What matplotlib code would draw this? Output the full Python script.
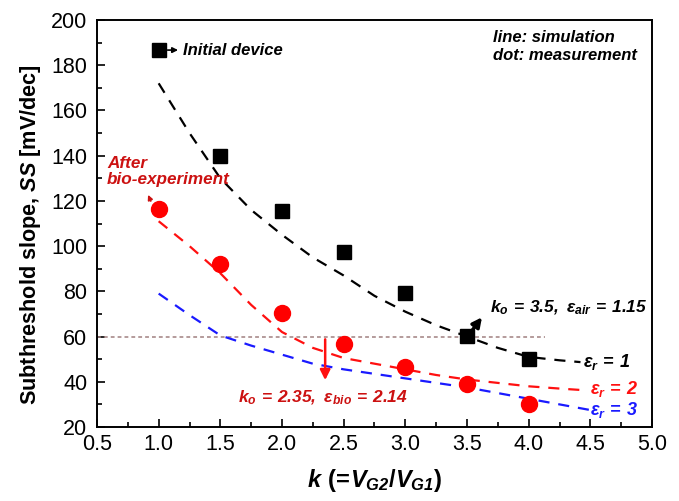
import matplotlib
matplotlib.use("Agg")
import matplotlib.pyplot as plt

plt.rcParams['font.family'] = ['Liberation Sans', 'DejaVu Sans']
plt.rcParams['mathtext.fontset'] = 'custom'
plt.rcParams['mathtext.rm'] = 'Liberation Sans:bold:italic'
plt.rcParams['mathtext.it'] = 'Liberation Sans:bold:italic'
plt.rcParams['mathtext.bf'] = 'Liberation Sans:bold:italic'
plt.rcParams['mathtext.sf'] = 'Liberation Sans:bold'

# measured data
k_meas = [1.0, 1.5, 2.0, 2.5, 3.0, 3.5, 4.0]
ss_initial = [186.7, 139.8, 115.5, 97.4, 79.3, 60.2, 50.0]
ss_bio = [116.4, 92.0, 70.4, 56.7, 46.5, 39.0, 30.0]

# simulation lines
k_sim1 = [1.0, 1.25, 1.5, 1.75, 2.0, 2.25, 2.5, 2.75, 3.0, 3.25, 3.5, 3.75, 4.0, 4.25, 4.42]
ss_er1 = [172, 150, 130, 116, 105, 95, 87, 78, 71, 65, 60, 55, 51, 49.5, 48.7]
k_sim2 = [1.0, 1.25, 1.5, 1.75, 2.0, 2.25, 2.5, 2.75, 3.0, 3.25, 3.5, 3.75, 4.0, 4.25, 4.47]
ss_er2 = [111, 100, 88, 74, 62, 55, 50.5, 48, 45.5, 43, 41, 39.5, 38, 37, 36.2]
k_sim3 = [1.0, 1.25, 1.5, 1.75, 2.0, 2.25, 2.5, 2.75, 3.0, 3.25, 3.5, 3.75, 4.0, 4.25, 4.5]
ss_er3 = [79, 69.5, 60.5, 56, 52, 48, 45.5, 43.5, 41.5, 39.5, 37.5, 35, 32.5, 30, 27.5]

ref_level = 60
xticks = [0.5, 1.0, 1.5, 2.0, 2.5, 3.0, 3.5, 4.0, 4.5, 5.0]
yticks = [20, 40, 60, 80, 100, 120, 140, 160, 180, 200]

RED_TXT = '#cc1111'
RED = '#ff1010'
BLUE = '#1a1aff'

fig = plt.figure(figsize=(6.79, 5.01), dpi=100)
ax = fig.add_axes([97/679, 1-427/501, (652-97)/679, (427-20)/501])

ax.plot([0.5, 4.13], [ref_level, ref_level], linestyle=(0, (2.5, 2)), color='#a08080', lw=1.1)

dash = (0, (5, 4))
ax.plot(k_sim1, ss_er1, color='black', lw=1.6, linestyle=dash)
ax.plot(k_sim2, ss_er2, color=RED, lw=1.6, linestyle=dash)
ax.plot(k_sim3, ss_er3, color=BLUE, lw=1.6, linestyle=dash)

ax.plot(k_meas, ss_initial, 's', color='black', ms=10.5, zorder=5)
ax.plot(k_meas, ss_bio, 'o', color='#ff0000', ms=11.5, zorder=5)

ax.set_xlim(0.5, 5.0)
ax.set_ylim(20, 200)
ax.set_xticks(xticks)
ax.set_xticklabels([f'{v:.1f}' for v in xticks])
ax.set_yticks(yticks)
ax.set_xticks([0.75 + 0.5 * i for i in range(9)], minor=True)
ax.set_yticks([30 + 20 * i for i in range(9)], minor=True)
ax.tick_params(which='both', direction='in', top=False, right=False, width=1.2)
ax.tick_params(which='major', length=6, labelsize=15.5)
ax.tick_params(axis='y', which='major', pad=7)
ax.tick_params(axis='x', which='major', pad=5)
ax.tick_params(which='minor', length=3.5)
for s in ax.spines.values():
    s.set_linewidth(1.4)

ax.set_xlabel(r'$k\ \mathsf{(}\!\mathsf{=}\!V_{G2}\mathsf{/}V_{G1}\mathsf{)}$', fontsize=17, labelpad=9)
ax.set_ylabel(r'Subthreshold slope, $SS$ [mV/dec]', fontsize=15.6, fontweight='bold')
ax.yaxis.set_label_coords(-0.097, 0.472)

# annotations
ax.annotate('', xy=(1.18, 186.7), xytext=(1.05, 186.7),
            arrowprops=dict(arrowstyle='-|>', color='black', lw=1.2, mutation_scale=8))
ax.text(1.2, 186.7, 'Initial device', fontsize=12, fontweight='bold', style='italic', va='center')

ax.text(3.71, 188.3, 'line: simulation\ndot: measurement', fontsize=12, fontweight='bold',
        style='italic', va='center', linespacing=1.2)

ax.text(0.58, 133.0, 'After\nbio-experiment', fontsize=12.3, fontweight='bold', style='italic',
        color=RED_TXT, va='center', linespacing=1.15)
ax.annotate('', xy=(0.905, 123.8), xytext=(0.945, 118.8),
            arrowprops=dict(arrowstyle='-|>', color=RED_TXT, lw=1.2, mutation_scale=7))

ax.annotate('', xy=(3.635, 69.5), xytext=(3.51, 60.5),
            arrowprops=dict(arrowstyle='-|>', color='black', lw=2.4, mutation_scale=14))
ax.text(3.69, 72.6, r'$k_o\,=\,3.5,\ \varepsilon_{air}\,=\,1.15$', fontsize=12.5, va='center')

ax.annotate('', xy=(2.35, 39.5), xytext=(2.35, 60),
            arrowprops=dict(arrowstyle='-|>', color=RED, lw=1.8, mutation_scale=15))
ax.text(1.64, 32.8, r'$k_o\,=\,2.35,\ \varepsilon_{bio}\,=\,2.14$', fontsize=12.5, va='center',
        color=RED_TXT)

ax.text(4.44, 48.7, r'$\varepsilon_r\,=\,1$', fontsize=13, va='center', color='black')
ax.text(4.50, 36.8, r'$\varepsilon_r\,=\,2$', fontsize=13, va='center', color=RED)
ax.text(4.50, 27.3, r'$\varepsilon_r\,=\,3$', fontsize=13, va='center', color=BLUE)

fig.savefig('out.png', dpi=100)
